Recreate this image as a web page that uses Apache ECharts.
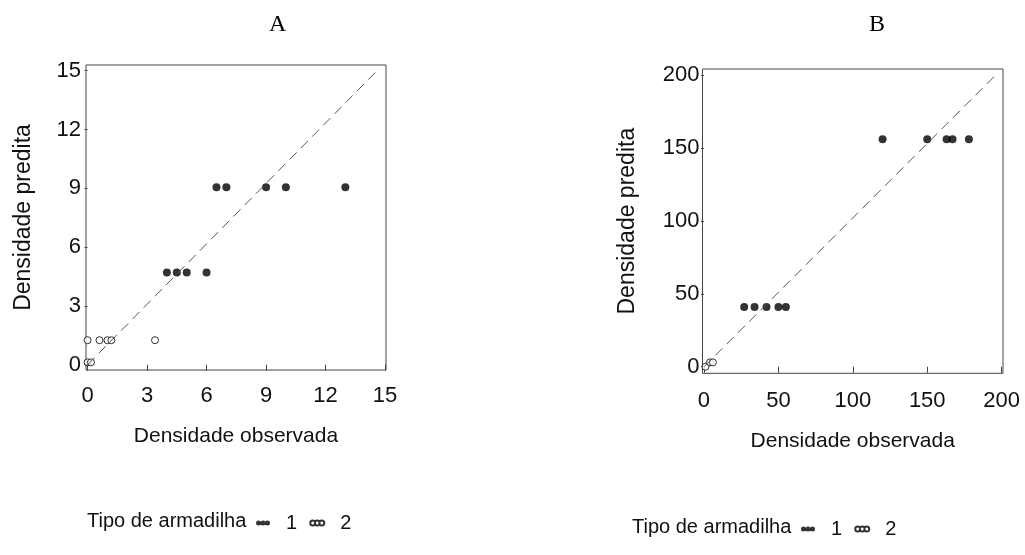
<!DOCTYPE html>
<html><head><meta charset="utf-8">
<script src="https://cdn.jsdelivr.net/npm/echarts@6/dist/echarts.min.js"></script>
<style>html,body{margin:0;padding:0;background:#fff}#c{width:1025px;height:555px}</style>
</head><body><div id="c"></div>
<script>
// Panel A data
const aTicks = [0, 3, 6, 9, 12, 15];
const aObsTrap1 = [4, 4.5, 5, 6, 6.5, 7, 9, 10, 13];
const aPredTrap1 = [4.7, 4.7, 4.7, 4.7, 9.05, 9.05, 9.05, 9.05, 9.05];
const aObsTrap2 = [0, 0.6, 1, 1.2, 3.4, 0, 0.17];
const aPredTrap2 = [1.25, 1.25, 1.25, 1.25, 1.25, 0.12, 0.12];
const aDiagObs = [0, 14.6];
const aDiagPred = [0, 15];
// Panel B data
const bTicks = [0, 50, 100, 150, 200];
const bObsTrap1 = [27, 34, 42, 50, 55, 120, 150, 163, 167, 178];
const bPredTrap1 = [41, 41, 41, 41, 41, 156, 156, 156, 156, 156];
const bObsTrap2 = [1, 4, 6];
const bPredTrap2 = [0, 3, 3];
const bDiagObs = [0, 196];
const bDiagPred = [0, 200];

const panelTitles = ['A', 'B'];
const xName = 'Densidade observada';
const yName = 'Densidade predita';
const legendTitle = 'Tipo de armadilha';
const trapNames = ['1', '2'];

const zip = (xs, ys) => xs.map((x, i) => [x, ys[i]]);
const FONT = 'Liberation Sans, Arial, sans-serif';

function xAxis(gi, min, max, ticks, lm, gap) {
  return {
    type: 'value', gridIndex: gi, min: min, max: max,
    name: xName, nameLocation: 'middle', nameGap: gap,
    nameTextStyle: {fontFamily: FONT, fontSize: 21, color: '#111'},
    splitLine: {show: false},
    axisLine: {show: false},
    axisTick: {show: true, length: 6, inside: false, customValues: ticks, lineStyle: {color: '#444'}},
    axisLabel: {customValues: ticks, fontFamily: FONT, fontSize: 22, color: '#111', margin: lm}
  };
}
function yAxis(gi, min, max, ticks, gap, lm) {
  return {
    type: 'value', gridIndex: gi, min: min, max: max,
    name: yName, nameLocation: 'middle', nameGap: gap, nameRotate: 90,
    nameTextStyle: {fontFamily: FONT, fontSize: 23, color: '#111'},
    splitLine: {show: false},
    axisLine: {show: false},
    axisTick: {show: true, length: 3, inside: false, customValues: ticks, lineStyle: {color: '#444'}},
    axisLabel: {customValues: ticks, fontFamily: FONT, fontSize: 22, color: '#111', margin: lm}
  };
}

const filledStyle = {color: '#000'};
const openStyle = {color: '#fff', borderColor: '#000', borderWidth: 1};
const dotsIcon = 'path://M0,2.5a2.5,2.5 0 1,0 5,0a2.5,2.5 0 1,0 -5,0M4.5,2.5a2.5,2.5 0 1,0 5,0a2.5,2.5 0 1,0 -5,0M9,2.5a2.5,2.5 0 1,0 5,0a2.5,2.5 0 1,0 -5,0';
const legendText = {fontFamily: FONT, fontSize: 20, color: '#111'};

const chart = echarts.init(document.getElementById('c'), null, {renderer: 'canvas'});
chart.setOption({
  backgroundColor: '#fff',
  animation: false,
  title: [
    {text: panelTitles[0], left: 264, top: 8, textStyle: {fontFamily: 'Liberation Serif, Times New Roman, serif', fontSize: 24, fontWeight: 'normal', color: '#000'}},
    {text: panelTitles[1], left: 864, top: 8, textStyle: {fontFamily: 'Liberation Serif, Times New Roman, serif', fontSize: 24, fontWeight: 'normal', color: '#000'}},
    {text: legendTitle, left: 87, top: 511, padding: 0, textStyle: {fontFamily: FONT, fontSize: 20, fontWeight: 'normal', color: '#111'}},
    {text: legendTitle, left: 632, top: 517, padding: 0, textStyle: {fontFamily: FONT, fontSize: 20, fontWeight: 'normal', color: '#111'}}
  ],
  legend: [
    {data: trapNames, left: 251, top: 508, icon: dotsIcon, itemWidth: 14, itemHeight: 6, itemGap: 12,
     formatter: n => '  ' + n, textStyle: legendText},
    {data: trapNames, left: 796, top: 514, icon: dotsIcon, itemWidth: 14, itemHeight: 6, itemGap: 12,
     formatter: n => '  ' + n, textStyle: legendText}
  ],
  grid: [
    {left: 86, top: 65, width: 300, height: 305, show: true, borderColor: '#444', borderWidth: 1, backgroundColor: 'transparent'},
    {left: 702.5, top: 69, width: 300.5, height: 304.3, show: true, borderColor: '#444', borderWidth: 1, backgroundColor: 'transparent'}
  ],
  xAxis: [xAxis(0, -0.08, 15.05, aTicks, 15, 56), xAxis(1, -1.0, 200.9, bTicks, 17, 57)],
  yAxis: [yAxis(0, -0.27, 15.29, aTicks, 51, 5), yAxis(1, -4.5, 204.1, bTicks, 63, 3)],
  series: [
    {type: 'line', xAxisIndex: 0, yAxisIndex: 0, data: zip(aDiagObs, aDiagPred), symbol: 'none', silent: true,
     lineStyle: {color: '#555', width: 1, type: [10, 6]}},
    {type: 'line', xAxisIndex: 1, yAxisIndex: 1, data: zip(bDiagObs, bDiagPred), symbol: 'none', silent: true,
     lineStyle: {color: '#555', width: 1, type: [10, 6]}},
    {name: trapNames[0], type: 'scatter', xAxisIndex: 0, yAxisIndex: 0, data: zip(aObsTrap1, aPredTrap1), symbol: 'circle', symbolSize: 8, itemStyle: filledStyle},
    {name: trapNames[1], type: 'scatter', xAxisIndex: 0, yAxisIndex: 0, data: zip(aObsTrap2, aPredTrap2), symbol: 'circle', symbolSize: 7, itemStyle: openStyle},
    {name: trapNames[0], type: 'scatter', xAxisIndex: 1, yAxisIndex: 1, data: zip(bObsTrap1, bPredTrap1), symbol: 'circle', symbolSize: 8, itemStyle: filledStyle},
    {name: trapNames[1], type: 'scatter', xAxisIndex: 1, yAxisIndex: 1, data: zip(bObsTrap2, bPredTrap2), symbol: 'circle', symbolSize: 7, itemStyle: openStyle}
  ]
});
</script></body></html>
